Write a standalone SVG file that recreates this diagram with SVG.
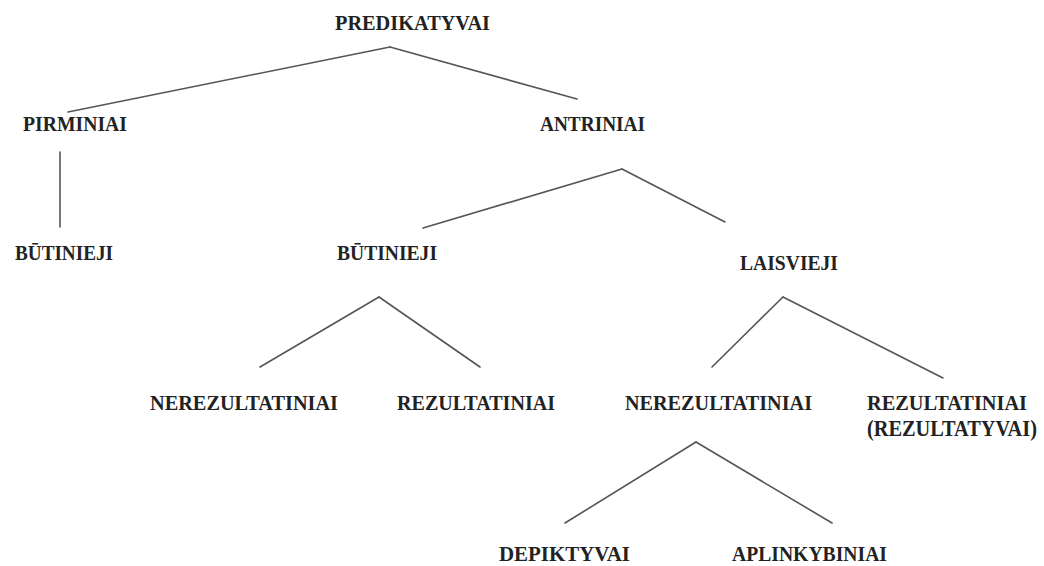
<svg xmlns="http://www.w3.org/2000/svg" width="1044" height="566" viewBox="0 0 1044 566">
<style>
.t{font-family:"Liberation Serif","Times New Roman",serif;font-weight:bold;font-size:22px;fill:#222}
.c line{stroke:#555;stroke-width:1.6;stroke-linecap:round}
</style>
<rect width="1044" height="566" fill="#fff"/>
<g class="c" id="connectors">
<line x1="390" y1="47" x2="68" y2="112"/>
<line x1="390" y1="47" x2="577" y2="99"/>
<line x1="60" y1="152" x2="60" y2="227"/>
<line x1="622" y1="169" x2="423" y2="228"/>
<line x1="622" y1="169" x2="725" y2="222"/>
<line x1="379" y1="297" x2="260" y2="367"/>
<line x1="379" y1="297" x2="480" y2="367"/>
<line x1="783" y1="297" x2="712" y2="367"/>
<line x1="783" y1="297" x2="943" y2="378"/>
<line x1="696" y1="442" x2="565" y2="523"/>
<line x1="696" y1="442" x2="832" y2="523"/>
</g>
<g id="n-predikatyvai"><text class="t" x="335" y="30" textLength="155" lengthAdjust="spacingAndGlyphs">PREDIKATYVAI</text></g>
<g id="n-pirminiai"><text class="t" x="23" y="131" textLength="104" lengthAdjust="spacingAndGlyphs">PIRMINIAI</text></g>
<g id="n-antriniai"><text class="t" x="540" y="131" textLength="105" lengthAdjust="spacingAndGlyphs">ANTRINIAI</text></g>
<g id="n-butinieji1"><text class="t" x="15" y="260" textLength="98" lengthAdjust="spacingAndGlyphs">BŪTINIEJI</text></g>
<g id="n-butinieji2"><text class="t" x="337" y="260" textLength="100" lengthAdjust="spacingAndGlyphs">BŪTINIEJI</text></g>
<g id="n-laisvieji"><text class="t" x="740" y="270" textLength="98" lengthAdjust="spacingAndGlyphs">LAISVIEJI</text></g>
<g id="n-nerez1"><text class="t" x="150" y="410" textLength="188" lengthAdjust="spacingAndGlyphs">NEREZULTATINIAI</text></g>
<g id="n-rez1"><text class="t" x="397" y="410" textLength="158" lengthAdjust="spacingAndGlyphs">REZULTATINIAI</text></g>
<g id="n-nerez2"><text class="t" x="625" y="410" textLength="187" lengthAdjust="spacingAndGlyphs">NEREZULTATINIAI</text></g>
<g id="n-rez2"><text class="t" x="867" y="410" textLength="160" lengthAdjust="spacingAndGlyphs">REZULTATINIAI</text><text class="t" transform="translate(867,436) scale(1,1.13)" x="0" y="0" style="font-size:19.5px" textLength="170" lengthAdjust="spacingAndGlyphs">(REZULTATYVAI)</text></g>
<g id="n-depiktyvai"><text class="t" x="499" y="561" textLength="131" lengthAdjust="spacingAndGlyphs">DEPIKTYVAI</text></g>
<g id="n-aplinkybiniai"><text class="t" x="732" y="561" textLength="155" lengthAdjust="spacingAndGlyphs">APLINKYBINIAI</text></g>
</svg>
